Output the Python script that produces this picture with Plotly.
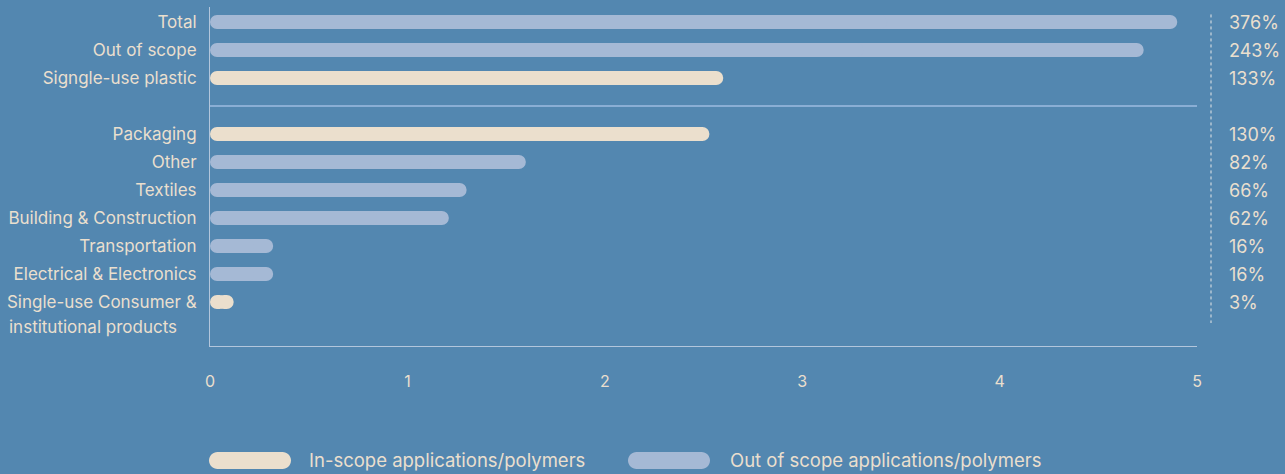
import plotly.graph_objects as go

# ---------------- data ----------------
top_labels = ["Total", "Out of scope", "Signgle-use plastic"]
top_values = [4.90, 4.73, 2.60]
top_scope = ["out", "out", "in"]
top_pct = ["376%", "243%", "133%"]

bottom_labels = ["Packaging", "Other", "Textiles", "Building & Construction",
                 "Transportation", "Electrical & Electronics", "Single-use Consumer &"]
bottom_values = [2.53, 1.60, 1.30, 1.21, 0.32, 0.32, 0.12]
bottom_scope = ["in", "out", "out", "out", "out", "out", "in"]
bottom_pct = ["130%", "82%", "66%", "62%", "16%", "16%", "3%"]
last_label_line2 = "institutional products"

x_ticks = [0, 1, 2, 3, 4, 5]
legend_names = {"in": "In-scope applications/polymers", "out": "Out of scope applications/polymers"}

# ---------------- style ----------------
BG = "#5387b0"
COL = {"in": "#ebdfcd", "out": "#a5b9d5"}
TXT = "#eadfce"
AXIS = "#b3c6dc"
SEP = "#8aaed4"
FONT = "Inter"

W, H = 1285, 474
ML, MR, MT, MB = 210, 88, 7, 128
PW, PH = W - ML - MR, H - MT - MB

labels = top_labels + bottom_labels
values = top_values + bottom_values
scope = top_scope + bottom_scope
pct = top_pct + bottom_pct
gap = 1
pos = list(range(len(top_labels))) + [len(top_labels) + gap + i for i in range(len(bottom_labels))]
sep_pos = len(top_labels)

fig = go.Figure()
for sc in ["in", "out"]:
    idx = [i for i in range(len(values)) if scope[i] == sc]
    v = [values[i] for i in idx]
    y = [pos[i] for i in idx]
    # right rounded part
    fig.add_trace(go.Bar(orientation="h", y=y, base=[a * 0.3 for a in v], x=[a * 0.7 for a in v],
                         width=0.5, marker=dict(color=COL[sc], cornerradius=7, line=dict(width=0)),
                         showlegend=False, hoverinfo="skip"))
    # left rounded part
    fig.add_trace(go.Bar(orientation="h", y=y, base=[a * 0.7 for a in v], x=[-a * 0.7 for a in v],
                         width=0.5, marker=dict(color=COL[sc], cornerradius=7, line=dict(width=0)),
                         showlegend=False, hoverinfo="skip"))

y_range = [(PH - 15) / 28, -15 / 28]

fig.update_layout(
    width=W, height=H, barmode="overlay",
    paper_bgcolor=BG, plot_bgcolor=BG,
    margin=dict(l=ML, r=MR, t=MT, b=MB, autoexpand=False),
    font=dict(family=FONT, color=TXT, size=17),
    showlegend=False,
    xaxis=dict(range=[0, 5], tickvals=x_ticks, showgrid=False, zeroline=False, automargin=False,
               showline=True, linecolor=AXIS, linewidth=1, ticks="", ticklabelstandoff=21,
               tickfont=dict(size=16, color=TXT), fixedrange=True),
    yaxis=dict(range=y_range, tickvals=pos, ticktext=labels, showgrid=False, zeroline=False,
               automargin=False,
               showline=True, linecolor=AXIS, linewidth=1, ticks="", ticklabelstandoff=9,
               tickfont=dict(size=17, color=TXT), fixedrange=True),
)

def px_x(p):
    return (p - ML) / PW

def px_y(p):
    return (H - MB - p) / PH

# separator line between the two groups
fig.add_shape(type="line", xref="paper", yref="y", x0=0, x1=1, y0=sep_pos, y1=sep_pos,
              line=dict(color=SEP, width=2))
# dotted vertical line
fig.add_shape(type="line", xref="paper", yref="y", x0=px_x(1211), x1=px_x(1211),
              y0=-0.27, y1=pos[-1] + 0.75, line=dict(color="#e6e6e6", width=1, dash="dot"))

# percentage labels
for p, t in zip(pos, pct):
    fig.add_annotation(xref="paper", yref="y", x=px_x(1227), y=p, text=t, showarrow=False,
                       xanchor="left", yanchor="middle", font=dict(size=18, color=TXT))

# second line of last label
fig.add_annotation(xref="paper", yref="y", x=px_x(7), y=pos[-1] + 0.88, text=last_label_line2,
                   showarrow=False, xanchor="left", yanchor="middle", font=dict(size=17, color=TXT))

# legend pills
def pill(x0p, x1p, y0p, y1p):
    x0, x1 = px_x(x0p), px_x(x1p)
    yb, yt = px_y(y1p), px_y(y0p)
    r = (y1p - y0p) / 2
    rx, ry = r / PW, r / PH
    k = 0.5523
    return (f"M {x0+rx},{yb} L {x1-rx},{yb} "
            f"C {x1-rx+k*rx},{yb} {x1},{yb+ry-k*ry} {x1},{yb+ry} "
            f"C {x1},{yb+ry+k*ry} {x1-rx+k*rx},{yt} {x1-rx},{yt} "
            f"L {x0+rx},{yt} "
            f"C {x0+rx-k*rx},{yt} {x0},{yb+ry+k*ry} {x0},{yb+ry} "
            f"C {x0},{yb+ry-k*ry} {x0+rx-k*rx},{yb} {x0+rx},{yb} Z")

for sc, (xa, xb, xt) in zip(["in", "out"], [(209, 291, 307), (628, 710, 728)]):
    fig.add_shape(type="path", xref="paper", yref="paper", path=pill(xa, xb, 452, 469),
                  fillcolor=COL[sc], line=dict(width=0), layer="above")
    fig.add_annotation(xref="paper", yref="paper", x=px_x(xt), y=px_y(460), text=legend_names[sc],
                       showarrow=False, xanchor="left", yanchor="middle", font=dict(size=18.5, color=TXT))

fig.write_html("out.html", config={"displayModeBar": False},
               post_script="document.body.style.margin='0px';document.body.style.background='%s';" % BG)
